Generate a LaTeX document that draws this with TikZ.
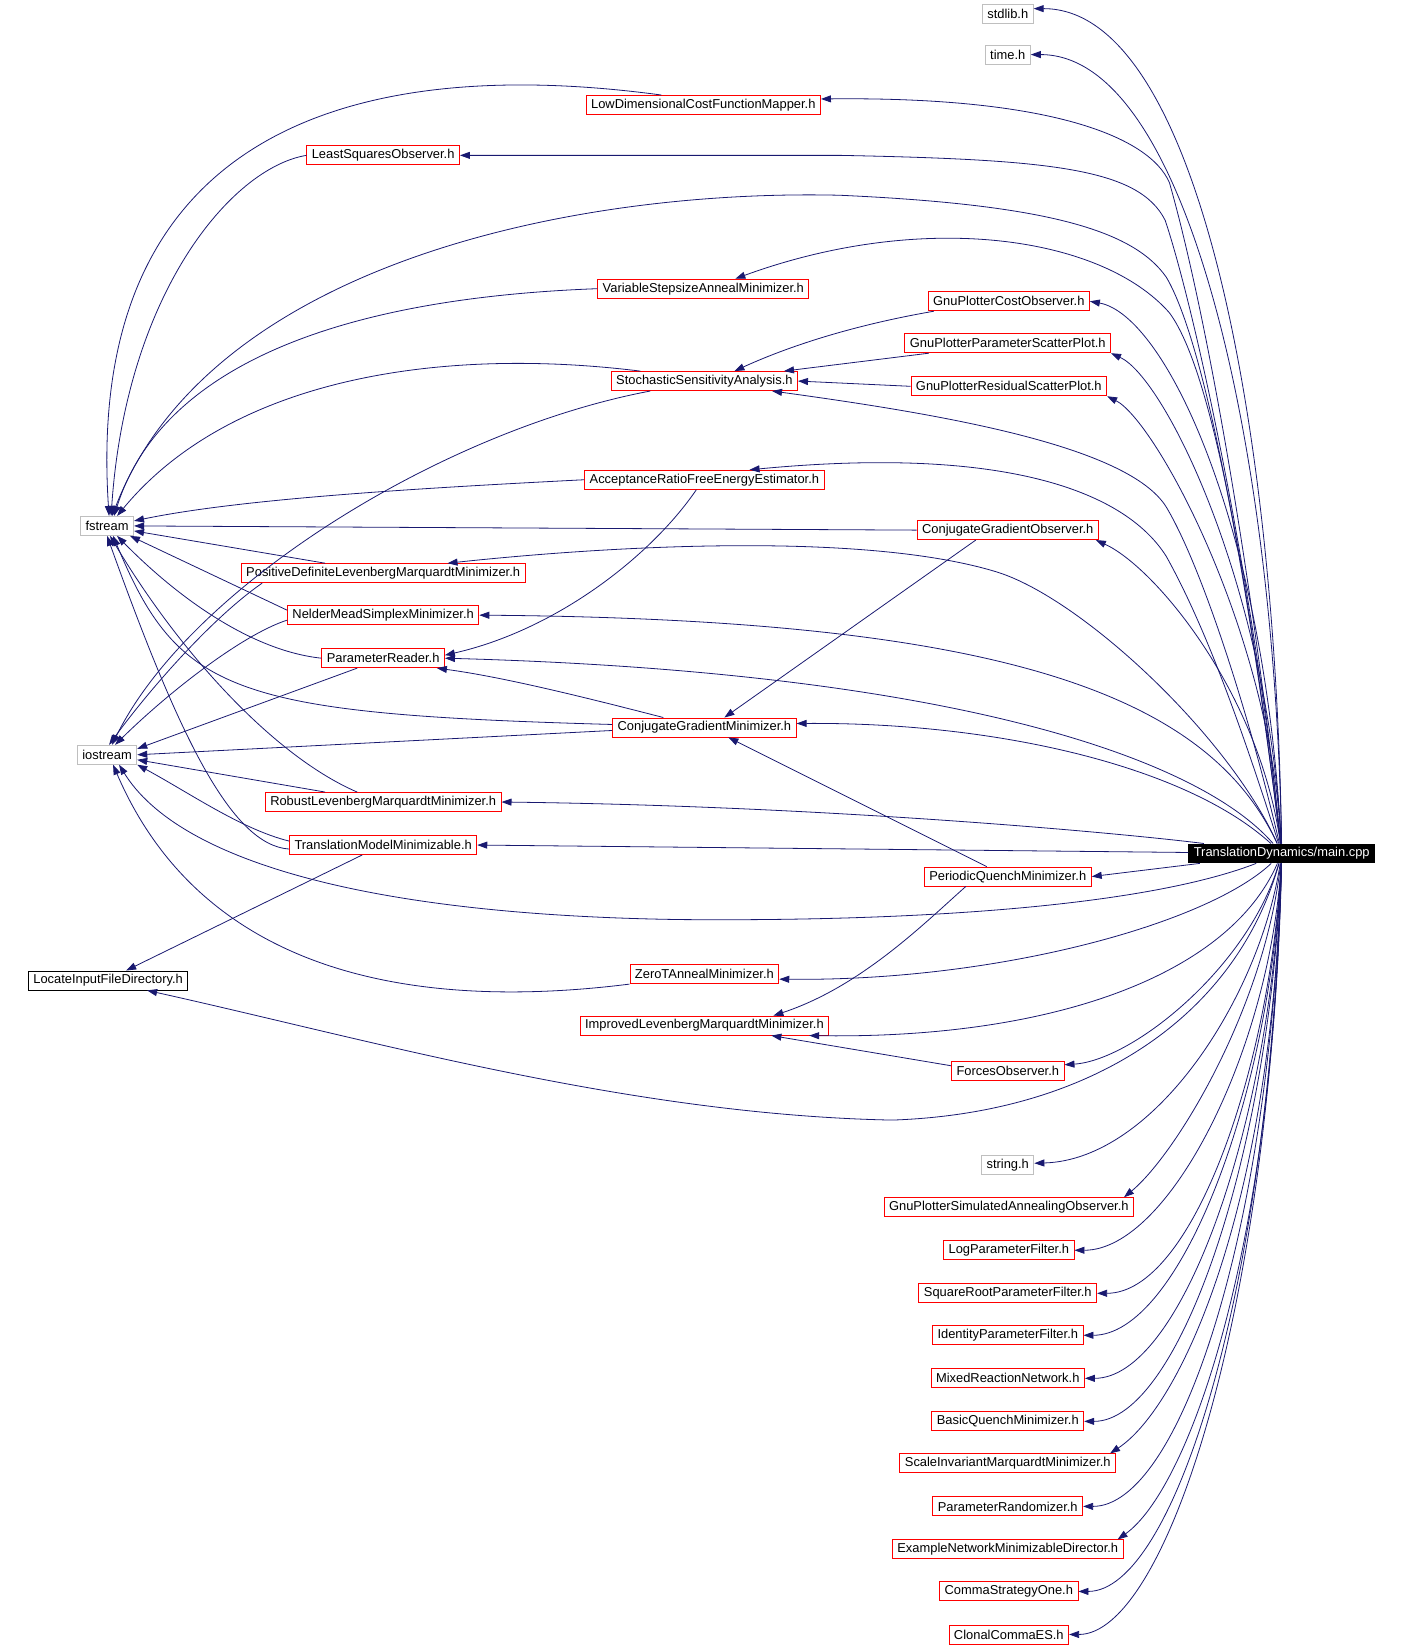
\documentclass[tikz,border=0pt]{standalone}
\usepackage{fontspec}
\setmainfont{Liberation Sans}
\usetikzlibrary{arrows.meta,calc}
\definecolor{edgeblue}{RGB}{25,25,112}
\definecolor{sysgray}{RGB}{191,191,191}

\begin{document}
\begin{tikzpicture}[x=1.05pt, y=-1.05pt, >={Triangle[length=10pt,width=7pt]},
    box/.style={draw, rectangle, inner xsep=5pt, inner ysep=0pt, minimum height=19pt,
                line width=0.9pt, font=\fontsize{12.9}{14}\selectfont},
    hdr/.style={box, draw=red},
    sys/.style={box, draw=sysgray},
    ext/.style={box, draw=black},
    src/.style={box, fill=black, text=white},
    dep/.style={->, edgeblue, line width=0.8pt}]
    \useasboundingbox (0,0) rectangle (1337,1568);

    % -- the source file on the right --
    \node[src] (main) at (1221,813) {TranslationDynamics/main.cpp};

    % -- system headers --
    \node[sys] (stdlib)   at (960,13)   {stdlib.h};
    \node[sys] (timeh)    at (960,52)   {time.h};
    \node[sys] (fstream)  at (102,501)  {fstream};
    \node[sys] (iostream) at (102,719)  {iostream};
    \node[sys] (stringh)  at (960,1110) {string.h};
    \node[ext] (lifd)     at (103,934)  {LocateInputFileDirectory.h};

    % -- project headers, middle column --
    \node[hdr] (ldcfm) at (670,100) {LowDimensionalCostFunctionMapper.h};
    \node[hdr] (vsam)  at (670,275) {VariableStepsizeAnnealMinimizer.h};
    \node[hdr] (ssa)   at (671,363) {StochasticSensitivityAnalysis.h};
    \node[hdr] (arfee) at (671,457) {AcceptanceRatioFreeEnergyEstimator.h};
    \node[hdr] (cgm)   at (671,693) {ConjugateGradientMinimizer.h};
    \node[hdr] (ztam)  at (671,928) {ZeroTAnnealMinimizer.h};
    \node[hdr] (ilm)   at (671,977) {ImprovedLevenbergMarquardtMinimizer.h};

    % -- project headers, left column --
    \node[hdr] (lso)     at (365,148) {LeastSquaresObserver.h};
    \node[hdr] (pdlm)    at (365,546) {PositiveDefiniteLevenbergMarquardtMinimizer.h};
    \node[hdr] (nmsm)    at (365,586) {NelderMeadSimplexMinimizer.h};
    \node[hdr] (preader) at (365,627) {ParameterReader.h};
    \node[hdr] (rlm)     at (365,764) {RobustLevenbergMarquardtMinimizer.h};
    \node[hdr] (tmm)     at (365,805) {TranslationModelMinimizable.h};

    % -- project headers, right column --
    \node[hdr] (gpco)   at (961,287)  {GnuPlotterCostObserver.h};
    \node[hdr] (gppsp)  at (960,327)  {GnuPlotterParameterScatterPlot.h};
    \node[hdr] (gprsp)  at (961,368)  {GnuPlotterResidualScatterPlot.h};
    \node[hdr] (cgo)    at (960,505)  {ConjugateGradientObserver.h};
    \node[hdr] (pqm)    at (960,835)  {PeriodicQuenchMinimizer.h};
    \node[hdr] (forces) at (960,1020) {ForcesObserver.h};
    \node[hdr] (gpsao)  at (961,1150) {GnuPlotterSimulatedAnnealingObserver.h};
    \node[hdr] (logpf)  at (961,1191) {LogParameterFilter.h};
    \node[hdr] (sqrtpf) at (960,1232) {SquareRootParameterFilter.h};
    \node[hdr] (idpf)   at (960,1272) {IdentityParameterFilter.h};
    \node[hdr] (mrn)    at (960,1313) {MixedReactionNetwork.h};
    \node[hdr] (bqm)    at (960,1354) {BasicQuenchMinimizer.h};
    \node[hdr] (simm)   at (960,1394) {ScaleInvariantMarquardtMinimizer.h};
    \node[hdr] (prand)  at (960,1435) {ParameterRandomizer.h};
    \node[hdr] (endir)  at (960,1476) {ExampleNetworkMinimizableDirector.h};
    \node[hdr] (csone)  at (961,1516) {CommaStrategyOne.h};
    \node[hdr] (cces)   at (961,1557) {ClonalCommaES.h};

    % -- main.cpp: includes above it --
    \draw[dep] (main) .. controls (1215,400) and (1140,8) .. ([yshift=5pt]stdlib.east);
    \draw[dep] (main) .. controls (1214,420) and (1130,52) .. (timeh.east);
    \draw[dep] (main) .. controls (1195,560) and (1150,300) .. (1114,174)
        .. controls (1095,130) and (1000,92) .. ([yshift=6pt]ldcfm.east);
    \draw[dep] (main) .. controls (1195,560) and (1140,300) .. (1110,210)
        .. controls (1085,160) and (1000,152) .. (800,148) -- (lso.east);
    \draw[dep] (main) .. controls (1190,560) and (1150,330) .. (1111,264)
        .. controls (1080,220) and (1000,195) .. (800,186)
        .. controls (550,180) and (200,250) .. ([xshift=5pt]fstream.north);
    \draw[dep] (main) .. controls (1195,600) and (1160,360) .. (1114,298)
        .. controls (1050,225) and (880,200) .. ([xshift=32pt]vsam.north);
    \draw[dep] (main) .. controls (1205,500) and (1110,300) .. (gpco.east);
    \draw[dep] (main) .. controls (1208,560) and (1110,360) .. (gppsp.south east);
    \draw[dep] (main) .. controls (1210,600) and (1100,400) .. (gprsp.south east);
    \draw[dep] (main) .. controls (1190,680) and (1145,540) .. (1111,483)
        .. controls (1075,425) and (900,395) .. ([xshift=-26pt]ssa.south east);
    \draw[dep] (main) .. controls (1185,700) and (1150,600) .. (1111,530)
        .. controls (1070,465) and (950,425) .. ([xshift=-75pt]arfee.north east);
    \draw[dep] (main) .. controls (1200,660) and (1100,540) .. ([xshift=-3pt]cgo.south east);
    \draw[dep] (main) .. controls (1170,700) and (1030,570) .. (950,545)
        .. controls (830,508) and (600,518) .. ([xshift=-78pt]pdlm.north east);
    \draw[dep] (main) .. controls (1150,660) and (950,590) .. (nmsm.east);
    \draw[dep] (main) .. controls (1140,720) and (900,640) .. (preader.east);
    \draw[dep] (main) .. controls (1130,730) and (950,688) .. ([yshift=4pt]cgm.east);
    \draw[dep] (main) .. controls (1080,795) and (800,768) .. (rlm.east);
    \draw[dep] (main) -- (tmm.east);
    \draw[dep] (main) -- (pqm.east);

    % -- main.cpp: includes below it --
    \draw[dep] (main) .. controls (1100,860) and (900,878) .. (650,876)
        .. controls (350,872) and (170,820) .. ([xshift=12pt]iostream.south);
    \draw[dep] (main) .. controls (1150,880) and (950,935) .. ([yshift=-5pt]ztam.east);
    \draw[dep] (main) .. controls (1170,930) and (1000,990) .. ([xshift=-20pt]ilm.south east);
    \draw[dep] (main) .. controls (1190,920) and (1080,1010) .. ([yshift=6pt]forces.east);
    \draw[dep] (main) .. controls (1180,960) and (1050,1060) .. (850,1067)
        .. controls (600,1062) and (350,990) .. ([xshift=39pt]lifd.south);
    \draw[dep] (main) .. controls (1200,950) and (1100,1105) .. ([yshift=2pt]stringh.east);
    \draw[dep] (main) .. controls (1205,960) and (1120,1100) .. ([xshift=-10pt]gpsao.north east);
    \draw[dep] (main) .. controls (1212,1150) and (1125,1340) .. ([xshift=-6pt]simm.north east);
    \draw[dep] (main) .. controls (1213,1200) and (1130,1420) .. ([xshift=-6pt]endir.north east);
    \foreach \n/\cy in {logpf/1000, sqrtpf/1020, idpf/1050, mrn/1080, bqm/1100,
                        prand/1180, csone/1230, cces/1260}
        \draw[dep] (main) .. controls (1210,\cy) and ($(\n.east)+(90,0)$) .. (\n.east);

    % -- headers that include fstream --
    \draw[dep] ([xshift=-42pt]ldcfm.north) .. controls (330,50) and (80,130) .. ([xshift=2pt]fstream.north);
    \draw[dep] (lso.west) .. controls (220,160) and (120,280) .. ([xshift=4pt]fstream.north);
    \draw[dep] (vsam.west) .. controls (300,285) and (150,360) .. ([xshift=7pt]fstream.north);
    \draw[dep] ([xshift=-64pt]ssa.north) .. controls (420,330) and (220,360) .. ([xshift=10pt]fstream.north);
    \draw[dep] (arfee.west) .. controls (400,465) and (230,475) .. ([yshift=5pt]fstream.east);
    \draw[dep] (cgo.west) -- (fstream.east);
    \draw[dep] ([xshift=-58pt]pdlm.north) -- ([yshift=-5pt]fstream.east);
    \draw[dep] ([yshift=5pt]nmsm.west) -- ([xshift=-4pt]fstream.south east);
    \draw[dep] (preader.west) .. controls (240,620) and (170,570) .. ([xshift=10pt]fstream.south);
    \draw[dep] ([yshift=3pt]cgm.west) .. controls (220,680) and (170,660) .. ([xshift=6pt]fstream.south);
    \draw[dep] ([xshift=-26pt]rlm.north) .. controls (260,720) and (170,620) .. ([xshift=3pt]fstream.south);
    \draw[dep] ([yshift=-4pt]tmm.west) .. controls (220,805) and (170,700) .. (fstream.south);

    % -- headers that include iostream --
    \draw[dep] ([xshift=-54pt]ssa.south) .. controls (420,410) and (180,560) .. ([xshift=5pt]iostream.north);
    \draw[dep] ([xshift=-121pt]pdlm.south) .. controls (200,590) and (140,660) .. ([xshift=2pt]iostream.north);
    \draw[dep] ([yshift=-5pt]nmsm.west) .. controls (230,605) and (160,660) .. ([xshift=8pt]iostream.north);
    \draw[dep] ([xshift=-26pt]preader.south) -- ([yshift=6pt]iostream.east);
    \draw[dep] ([yshift=-3pt]cgm.west) -- (iostream.east);
    \draw[dep] ([xshift=-58pt]rlm.north) -- ([yshift=-5pt]iostream.east);
    \draw[dep] ([yshift=4pt]tmm.west) .. controls (230,790) and (180,755) .. (iostream.south east);
    \draw[dep] ([xshift=-75pt]ztam.south) .. controls (380,965) and (190,920) .. ([xshift=6pt]iostream.south);

    % -- remaining header to header includes --
    \draw[dep] ([xshift=-21pt]tmm.south) -- ([xshift=18pt]lifd.north);
    \draw[dep] ([xshift=-8pt]arfee.south) .. controls (620,530) and (530,600) .. ([yshift=3pt]preader.east);
    \draw[dep] ([xshift=-41pt]cgm.north) .. controls (560,665) and (480,645) .. ([xshift=-8pt]preader.south east);
    \draw[dep] ([xshift=-32pt]cgo.south) -- ([xshift=20pt]cgm.north);
    \draw[dep] ([xshift=-21pt]pqm.north) -- ([xshift=24pt]cgm.south);
    \draw[dep] ([xshift=-42pt]pqm.south) .. controls (880,880) and (820,940) .. ([xshift=69pt]ilm.north);
    \draw[dep] ([yshift=5pt]forces.west) -- ([xshift=67pt]ilm.south);
    \draw[dep] ([xshift=-75pt]gpco.south) .. controls (800,312) and (740,335) .. ([xshift=30pt]ssa.north);
    \draw[dep] ([xshift=-79pt]gppsp.south) -- ([xshift=-14pt]ssa.north east);
    \draw[dep] (gprsp.west) -- (ssa.east);

\end{tikzpicture}
\end{document}
